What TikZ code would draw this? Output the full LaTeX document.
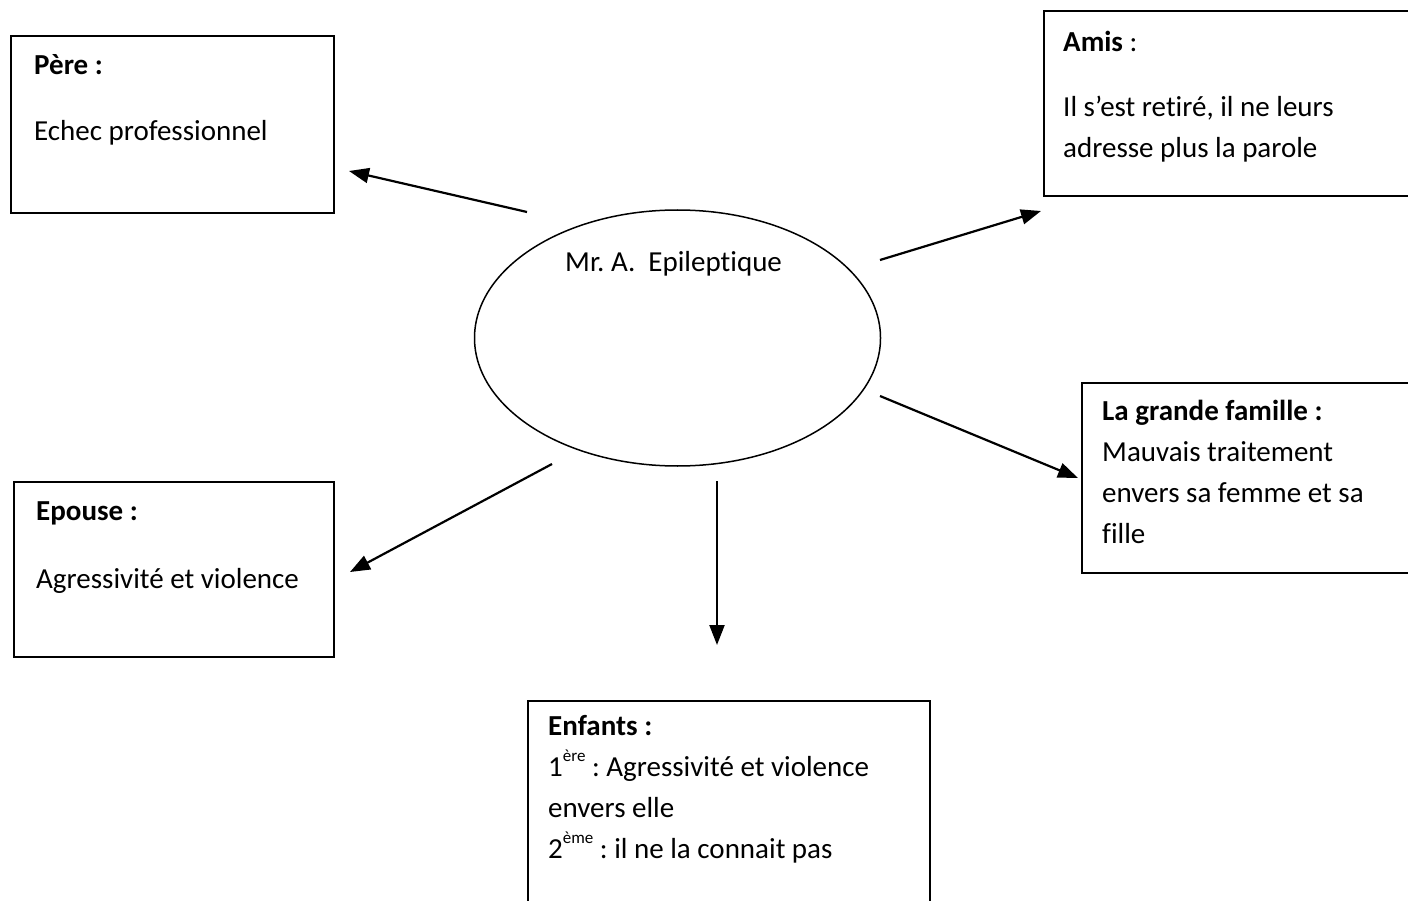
\documentclass[tikz,border=0pt]{standalone}
\usepackage{fontspec}
\setmainfont{Carlito}[Ligatures=NoCommon]
\frenchspacing
\usetikzlibrary{arrows.meta,shapes.geometric}
\newcommand{\exposant}[1]{\raisebox{0.5em}{\fontsize{17}{17}\selectfont #1}}
\begin{document}
\begin{tikzpicture}[x=1pt,y=-1pt,
    box/.style={draw,line width=1.6pt,rectangle,inner sep=0pt,anchor=north west},
    txt/.style={anchor=base west,inner sep=0pt,align=left,font=\fontsize{29}{41}\selectfont},
    arr/.style={line width=2.2pt,-{Triangle[length=20pt,width=15pt]}}]

  \useasboundingbox (0,0) rectangle (1408,901);
  \clip (0,0) rectangle (1408,901);

  % boxes
  \node[box,minimum width=323pt,minimum height=177pt] (pere) at (10,35) {};
  \node[box,minimum width=380pt,minimum height=185pt] (amis) at (1043,10) {};
  \node[box,minimum width=340pt,minimum height=190pt] (famille) at (1081,382) {};
  \node[box,minimum width=320pt,minimum height=175pt] (epouse) at (13,481) {};
  \node[box,minimum width=402pt,minimum height=220pt] (enfants) at (527,700) {};
  \node[draw,ellipse,line width=1.5pt,minimum width=406pt,minimum height=256pt,inner sep=0pt] (patient) at (677.5,338) {};

  % texts (anchored on the baseline of their last line)
  \node[txt] (pere-t) at (34,141) {\textbf{Père :}\\[25pt] Echec professionnel};
  \node[txt] (amis-t) at (1063,158) {\textbf{Amis} :\\[24pt] Il s’est retiré, il ne leurs\\ adresse plus la parole};
  \node[txt] (famille-t) at (1102,543) {\textbf{La grande famille :}\\ Mauvais traitement\\ envers sa femme et sa\\ fille};
  \node[txt] (epouse-t) at (36,588) {\textbf{Epouse :}\\[27pt] Agressivité et violence};
  \node[txt] (enfants-t) at (548,858) {\textbf{Enfants :}\\ 1\exposant{ère} : Agressivité et violence\\ envers elle\\ 2\exposant{ème} : il ne la connait pas};
  \node[txt] (patient-t) at (565,272) {Mr. A.\ \ Epileptique};

  % arrow ends
  \coordinate (from-pere) at (527,212);
  \coordinate (to-pere) at (349,171);
  \coordinate (from-amis) at (880,260);
  \coordinate (to-amis) at (1041,211);
  \coordinate (from-famille) at (880,396);
  \coordinate (to-famille) at (1078,478);
  \coordinate (from-epouse) at (552,464);
  \coordinate (to-epouse) at (350,572);
  \coordinate (from-enfants) at (717,481);
  \coordinate (to-enfants) at (717,645);

  \draw[arr] (from-pere) -- (to-pere);
  \draw[arr] (from-amis) -- (to-amis);
  \draw[arr] (from-famille) -- (to-famille);
  \draw[arr] (from-epouse) -- (to-epouse);
  \draw[arr] (from-enfants) -- (to-enfants);

\end{tikzpicture}
\end{document}
